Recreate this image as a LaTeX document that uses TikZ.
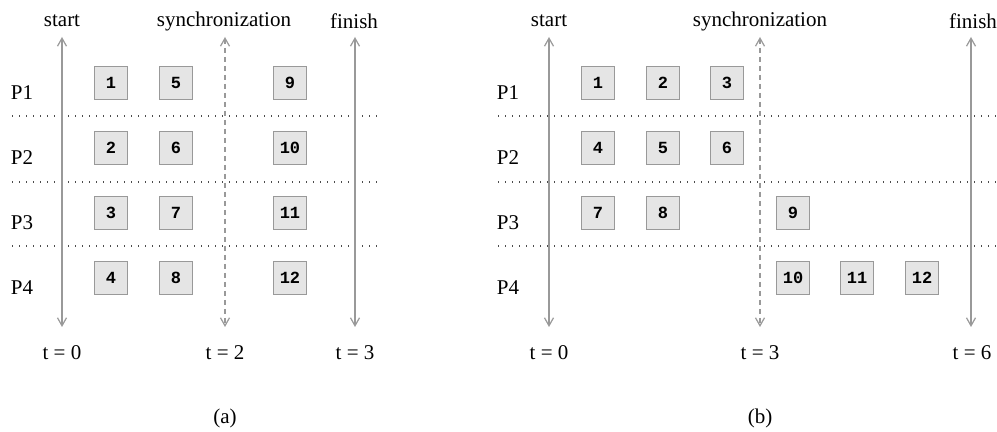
\documentclass[tikz,border=0pt]{standalone}
\usepackage{fontspec}
\setmainfont{Liberation Serif}
\setmonofont{Liberation Mono}
\usetikzlibrary{arrows.meta}

\begin{document}
\begin{tikzpicture}[
  x=0.5pt, y=-0.5pt,
  every node/.style={font=\fontsize{10.5}{12}\selectfont},
  task/.style={draw=gray!80, fill=gray!20, line width=0.6pt, minimum width=16.5pt, minimum height=16.5pt, inner sep=0pt, font=\ttfamily\bfseries\fontsize{8.5}{10}\selectfont},
  timeline/.style={draw=gray!80, line width=0.6pt, {Straight Barb[length=4pt,width=4.5pt]}-{Straight Barb[length=4pt,width=4.5pt]}},
  syncline/.style={timeline, dash pattern=on 2.5pt off 2pt},
  slot/.style={draw=black!70, line width=0.8pt, dash pattern=on 0.7pt off 2.8pt}
]
\useasboundingbox (0,0) rectangle (997,432);

% (a) 4 processors, 12 tasks
\foreach \y in {116,182,246} \draw[slot] (12,\y) -- (378,\y);
\node (pA1) at (22,93) {P1};
\node (pA2) at (22,158) {P2};
\node (pA3) at (22,223) {P3};
\node (pA4) at (22,288) {P4};
\node (startA) at (62,21) {start};
\node (syncA) at (224,21) {synchronization};
\node (finishA) at (354,21) {finish};
\node (t0A) at (62,353) {t = 0};
\node (t2A) at (225,353) {t = 2};
\node (t3A) at (355,353) {t = 3};
\coordinate (startAtop) at (62,37);  \coordinate (startAbot) at (62,327);
\coordinate (syncAtop) at (225,37);  \coordinate (syncAbot) at (225,327);
\coordinate (finishAtop) at (355,37); \coordinate (finishAbot) at (355,327);
\draw[timeline] (startAtop) -- (startAbot);
\draw[syncline] (syncAtop) -- (syncAbot);
\draw[timeline] (finishAtop) -- (finishAbot);
\node[task] (a1) at (111,83) {1};
\node[task] (a5) at (176,83) {5};
\node[task] (a9) at (290,83) {9};
\node[task] (a2) at (111,148) {2};
\node[task] (a6) at (176,148) {6};
\node[task] (a10) at (290,148) {10};
\node[task] (a3) at (111,213) {3};
\node[task] (a7) at (176,213) {7};
\node[task] (a11) at (290,213) {11};
\node[task] (a4) at (111,278) {4};
\node[task] (a8) at (176,278) {8};
\node[task] (a12) at (290,278) {12};
\node (capA) at (225,418) {(a)};

% (b) same tasks, unbalanced
\foreach \y in {116,182,246} \draw[slot] (498,\y) -- (997,\y);
\node (pB1) at (508,93) {P1};
\node (pB2) at (508,158) {P2};
\node (pB3) at (508,223) {P3};
\node (pB4) at (508,288) {P4};
\node (startB) at (549,21) {start};
\node (syncB) at (760,21) {synchronization};
\node (finishB) at (973,21) {finish};
\node (t0B) at (549,353) {t = 0};
\node (t3B) at (760,353) {t = 3};
\node (t6B) at (972,353) {t = 6};
\coordinate (startBtop) at (549,37);  \coordinate (startBbot) at (549,327);
\coordinate (syncBtop) at (760,37);   \coordinate (syncBbot) at (760,327);
\coordinate (finishBtop) at (971,37); \coordinate (finishBbot) at (971,327);
\draw[timeline] (startBtop) -- (startBbot);
\draw[syncline] (syncBtop) -- (syncBbot);
\draw[timeline] (finishBtop) -- (finishBbot);
\node[task] (b1) at (598,83) {1};
\node[task] (b2) at (663,83) {2};
\node[task] (b3) at (727,83) {3};
\node[task] (b4) at (598,148) {4};
\node[task] (b5) at (663,148) {5};
\node[task] (b6) at (727,148) {6};
\node[task] (b7) at (598,213) {7};
\node[task] (b8) at (663,213) {8};
\node[task] (b9) at (793,213) {9};
\node[task] (b10) at (793,278) {10};
\node[task] (b11) at (857,278) {11};
\node[task] (b12) at (922,278) {12};
\node (capB) at (760,418) {(b)};
\end{tikzpicture}
\end{document}
